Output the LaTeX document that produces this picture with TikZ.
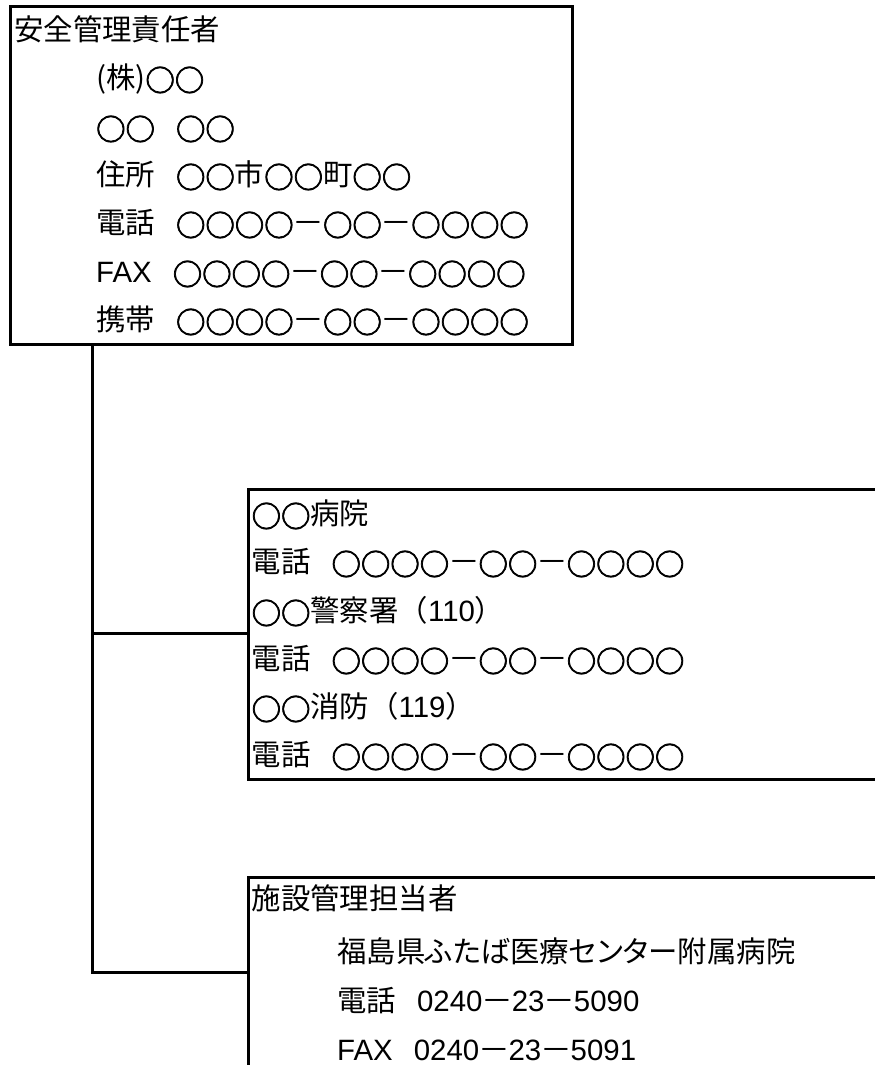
\documentclass[tikz,border=0pt]{standalone}
\usepackage{graphicx}
\usepackage{fontspec}
\setmainfont{Noto Sans CJK JP}[WordSpace=3.2]
\newfontfamily\lat{Liberation Sans}
\newfontfamily\cifont{Noto Sans CJK JP}[FakeBold=2.5]
\newcommand*\ci{\makebox[1em]{\raisebox{-0.09em}{\cifont ○}}}
\newcommand*\hy{\makebox[1em]{\scalebox{1.08}[1]{－}}}
\newcommand*\num{\ci\ci\ci\ci\hy\ci\ci\hy\ci\ci\ci\ci}
\tikzset{
  frame/.style={draw, line width=3pt, rectangle, inner sep=0pt, anchor=north west},
  txt/.style={anchor=base west, inner sep=0pt, font=\fontsize{29.4}{35}\selectfont},
  link/.style={line width=3pt},
}
\begin{document}
\begin{tikzpicture}[x=1pt,y=-1pt]
\useasboundingbox (0,0) rectangle (875,1065);
\fill[white] (0,0) rectangle (875,1065);
\clip (0,0) rectangle (875,1065);
% boxes
\node[frame, minimum width=562pt, minimum height=337pt] (sec) at (8.5,5.5) {};
\node[frame, minimum width=700pt, minimum height=290pt] (mid) at (247,488) {};
\node[frame, minimum width=700pt, minimum height=300pt] (bot) at (247,876) {};
% connectors
\coordinate (j1) at (92,633);
\coordinate (j2) at (92,972);
\draw[link] (j1 |- sec.south) -- (j2) -- (bot.west |- j2);
\draw[link] (j1) -- (mid.west |- j1);
% top box text
\node[txt] (t1) at (14,40.5) {安全管理責任者};
\node[txt] (t2) at (96,88.5) {(株)\ci\ci};
\node[txt] (t3) at (96,137.5) {\ci\ci{} \ci\ci};
\node[txt] (t4) at (96,185.5) {住所 \ci\ci 市\ci\ci 町\ci\ci};
\node[txt] (t5) at (96,233.5) {電話 \num};
\node[txt] (t6) at (96,282.5) {{\lat FAX} \num};
\node[txt] (t7) at (96,330.5) {携帯 \num};
% middle box text
\node[txt] (m1) at (251.5,524.5) {\ci\ci 病院};
\node[txt] (m2) at (251.5,572.5) {電話 \num};
\node[txt] (m3) at (251.5,621.5) {\ci\ci 警察署（{\lat 110}）};
\node[txt] (m4) at (251.5,669.5) {電話 \num};
\node[txt] (m5) at (251.5,717.5) {\ci\ci 消防（{\lat 119}）};
\node[txt] (m6) at (251.5,765.5) {電話 \num};
% bottom box text
\node[txt] (b1) at (251.5,909.5) {施設管理担当者};
\node[txt] (b2) at (337,962.5) {\addfontfeature{RawFeature=+palt}福島県ふたば医療センター附属病院};
\node[txt] (b3) at (337,1011.5) {電話 {\lat 0240}\hy{\lat 23}\hy{\lat 5090}};
\node[txt] (b4) at (337,1060.5) {{\lat FAX} {\lat 0240}\hy{\lat 23}\hy{\lat 5091}};
\end{tikzpicture}
\end{document}
